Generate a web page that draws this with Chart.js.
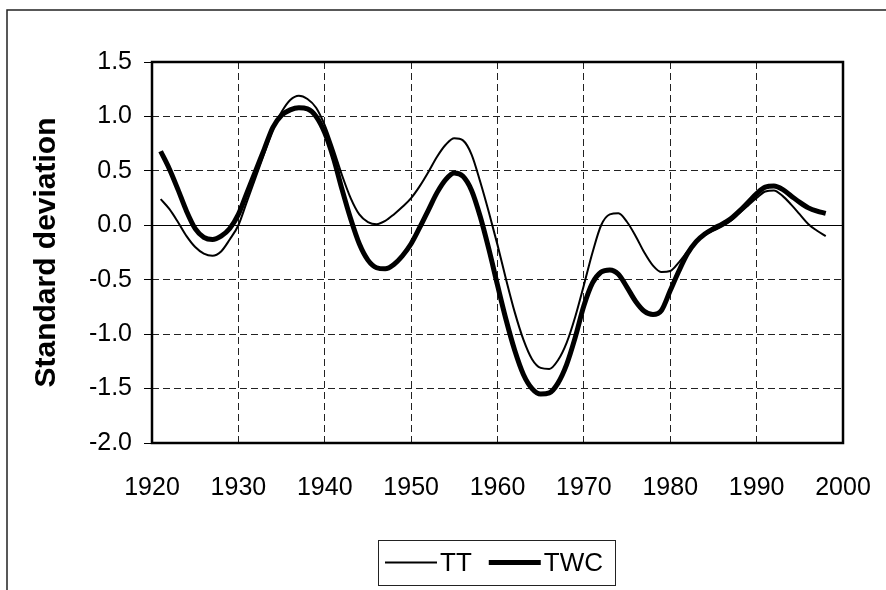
<!DOCTYPE html>
<html>
<head>
<meta charset="utf-8">
<title>Standard deviation TT / TWC</title>
<script src="https://cdn.jsdelivr.net/npm/chart.js@4.4.1/dist/chart.umd.min.js"></script>
<style>
  html, body { margin: 0; padding: 0; background: #fff; }
  canvas { display: block; }
</style>
</head>
<body>
<canvas id="sdchart" width="886" height="590"></canvas>
<script>
// yearly values, 1921-1998
const years = [];
for (let y = 1921; y <= 1998; y++) years.push(y);

const tt = [
  0.24, 0.15, 0.03, -0.10, -0.20, -0.26, -0.28, -0.24, -0.13, 0.00,
  0.22, 0.44, 0.66, 0.88, 1.04, 1.15, 1.19, 1.16, 1.08, 0.92,
  0.70, 0.46, 0.25, 0.10, 0.03, 0.01, 0.04, 0.10, 0.17, 0.25,
  0.36, 0.49, 0.63, 0.74, 0.80, 0.78, 0.65, 0.40, 0.12, -0.18,
  -0.50, -0.80, -1.05, -1.23, -1.31, -1.32, -1.24, -1.08, -0.84, -0.55,
  -0.25, 0.00, 0.10, 0.11, 0.03, -0.10, -0.25, -0.37, -0.43, -0.42,
  -0.34, -0.24, -0.15, -0.09, -0.05, -0.01, 0.04, 0.11, 0.18, 0.25,
  0.31, 0.32, 0.27, 0.19, 0.10, 0.01, -0.05, -0.10
];

const twc = [
  0.68, 0.52, 0.33, 0.13, -0.03, -0.11, -0.13, -0.10, -0.03, 0.10,
  0.30, 0.50, 0.70, 0.90, 1.01, 1.06, 1.08, 1.07, 1.00, 0.85,
  0.62, 0.33, 0.06, -0.17, -0.32, -0.39, -0.40, -0.36, -0.28, -0.17,
  -0.02, 0.14, 0.30, 0.42, 0.48, 0.45, 0.32, 0.08, -0.22, -0.55,
  -0.87, -1.15, -1.37, -1.50, -1.55, -1.54, -1.45, -1.28, -1.03, -0.74,
  -0.53, -0.43, -0.41, -0.45, -0.57, -0.70, -0.79, -0.82, -0.78, -0.60,
  -0.42, -0.26, -0.15, -0.08, -0.03, 0.01, 0.06, 0.13, 0.21, 0.29,
  0.35, 0.36, 0.33, 0.27, 0.21, 0.16, 0.13, 0.11
];

const seriesNames = ['TT', 'TWC'];
const FONT = "'Liberation Sans', Arial, sans-serif";

const toPoints = vals => vals.map((v, i) => ({ x: years[i], y: v }));

// page frame + plot frame + boxed legend
const framePlugin = {
  id: 'frame',
  beforeDraw(chart) {
    const c = chart.ctx;
    c.save();
    c.strokeStyle = '#222';
    c.lineWidth = 1.5;
    c.beginPath();
    c.moveTo(7, 590);
    c.lineTo(7, 10);
    c.lineTo(886, 10);
    c.stroke();
    c.restore();
  },
  afterDraw(chart) {
    const c = chart.ctx;
    const a = chart.chartArea;
    c.save();
    c.strokeStyle = '#000';
    c.lineWidth = 2.5;
    c.strokeRect(a.left, a.top, a.right - a.left, a.bottom - a.top);

    // legend
    const bx = 378, by = 540, bw = 237, bh = 45;
    c.lineWidth = 1;
    c.strokeStyle = '#222';
    c.strokeRect(bx + 0.5, by + 0.5, bw, bh);
    c.font = '26px ' + FONT;
    c.fillStyle = '#000';
    c.textBaseline = 'middle';
    const cy = by + bh / 2;
    let x = bx + 7;
    chart.data.datasets.forEach(ds => {
      c.lineWidth = ds.borderWidth;
      c.strokeStyle = ds.borderColor;
      c.beginPath();
      c.moveTo(x, cy);
      c.lineTo(x + 52, cy);
      c.stroke();
      x += 55;
      c.fillText(ds.label, x, cy + 1);
      x += c.measureText(ds.label).width + 17;
    });
    c.restore();
  }
};

new Chart(document.getElementById('sdchart'), {
  type: 'line',
  data: {
    datasets: [
      {
        label: seriesNames[0],
        data: toPoints(tt),
        borderColor: '#000',
        borderWidth: 2,
        pointRadius: 0,
        tension: 0.4,
        cubicInterpolationMode: 'monotone'
      },
      {
        label: seriesNames[1],
        data: toPoints(twc),
        borderColor: '#000',
        borderWidth: 5,
        pointRadius: 0,
        tension: 0.4,
        cubicInterpolationMode: 'monotone'
      }
    ]
  },
  options: {
    responsive: false,
    animation: false,
    layout: { padding: { left: 0, top: 62, right: 43, bottom: 0 } },
    plugins: {
      legend: { display: false },
      tooltip: { enabled: false }
    },
    scales: {
      x: {
        type: 'linear',
        min: 1920,
        max: 2000,
        afterFit: s => {
          s.height = 147;
          s.paddingLeft = 0;
          s.paddingRight = 0;
        },
        ticks: {
          stepSize: 10,
          padding: 30,
          color: '#000',
          font: { family: FONT, size: 25 },
          maxRotation: 0,
          callback: v => String(v)
        },
        grid: { color: '#222', lineWidth: 1, drawTicks: false },
        border: { display: false, dash: [7, 4] }
      },
      y: {
        min: -2,
        max: 1.5,
        afterFit: s => {
          s.width = 152;
          s.paddingTop = 0;
          s.paddingBottom = 0;
        },
        ticks: {
          stepSize: 0.5,
          padding: 12,
          color: '#000',
          font: { family: FONT, size: 25 },
          callback: v => v.toFixed(1)
        },
        grid: {
          color: ctx => ctx.tick && ctx.tick.value === 0 ? '#000' : '#222',
          lineWidth: 1,
          tickLength: 8,
          tickColor: '#000',
          tickBorderDash: []
        },
        border: {
          display: false,
          dash: ctx => ctx.tick && ctx.tick.value === 0 ? [] : [7, 4]
        },
        title: {
          display: true,
          text: 'Standard deviation',
          color: '#000',
          font: { family: FONT, size: 30, weight: 'bold' },
          padding: { top: 29, bottom: 0 }
        }
      }
    }
  },
  plugins: [framePlugin]
});
</script>
</body>
</html>
